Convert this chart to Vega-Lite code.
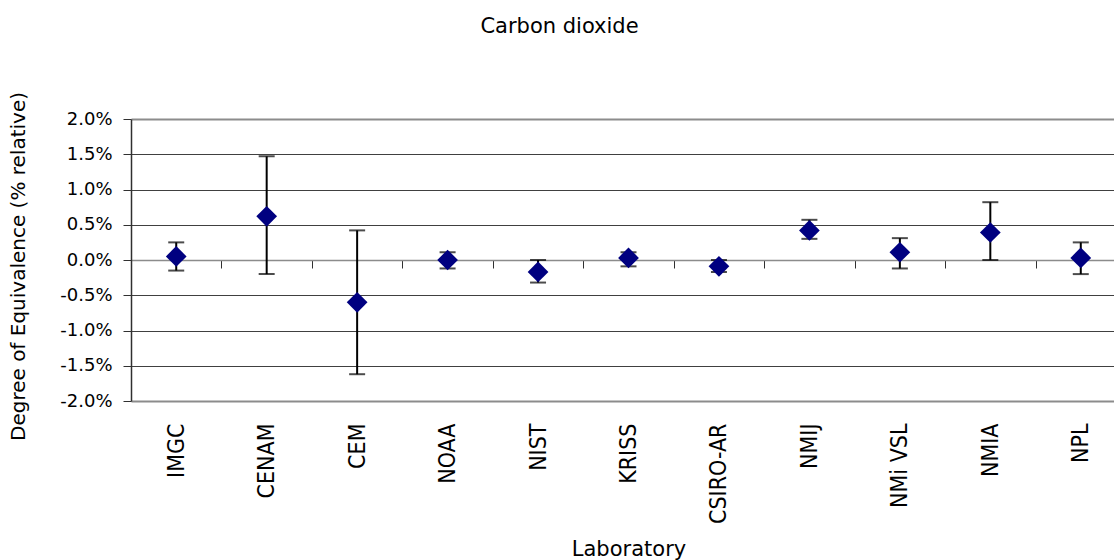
{
  "$schema": "https://vega.github.io/schema/vega-lite/v6.json",
  "width": 983,
  "height": 282,
  "autosize": {"type": "none"},
  "padding": {"left": 131, "top": 119, "right": 0, "bottom": 159},
  "background": "white",
  "title": {
    "text": "Carbon dioxide",
    "font": "DejaVu Sans",
    "fontSize": 21,
    "fontWeight": "normal",
    "color": "#000000",
    "anchor": "middle",
    "frame": "group",
    "dx": -63,
    "offset": 54
  },
  "config": {
    "view": {"stroke": null},
    "axisY": {
      "labelOverlap": false,
      "grid": true,
      "gridColor": {"condition": {"test": "abs(datum.value) > 1.9", "value": "#8c8c8c"}, "value": "#404040"},
      "gridWidth": {"condition": {"test": "abs(datum.value) > 1.9", "value": 2}, "value": 1},
      "domainColor": "#303030",
      "domainWidth": 1.5,
      "tickColor": "#303030",
      "tickSize": 8,
      "labelFont": "DejaVu Sans",
      "labelFontSize": 18,
      "labelColor": "#000000",
      "labelPadding": 11,
      "titleFont": "DejaVu Sans",
      "titleFontSize": 20,
      "titleFontWeight": "normal",
      "titleColor": "#000000",
      "titleX": -113,
      "titleY": 147,
      "titleAngle": -90,
      "titleAlign": "center",
      "titleBaseline": "middle"
    }
  },
  "data": {
    "values": [
      {"lab": "IMGC", "val": 0.05, "lo": -0.15, "hi": 0.25},
      {"lab": "CENAM", "val": 0.62, "lo": -0.20, "hi": 1.47},
      {"lab": "CEM", "val": -0.60, "lo": -1.62, "hi": 0.42},
      {"lab": "NOAA", "val": 0.00, "lo": -0.12, "hi": 0.11},
      {"lab": "NIST", "val": -0.17, "lo": -0.32, "hi": 0.00},
      {"lab": "KRISS", "val": 0.03, "lo": -0.09, "hi": 0.11},
      {"lab": "CSIRO-AR", "val": -0.09, "lo": -0.17, "hi": 0.00},
      {"lab": "NMIJ", "val": 0.42, "lo": 0.30, "hi": 0.57},
      {"lab": "NMi VSL", "val": 0.11, "lo": -0.12, "hi": 0.31},
      {"lab": "NMIA", "val": 0.39, "lo": 0.00, "hi": 0.82},
      {"lab": "NPL", "val": 0.03, "lo": -0.20, "hi": 0.25}
    ]
  },
  "encoding": {
    "x": {
      "field": "lab",
      "type": "nominal",
      "sort": null,
      "scale": {"type": "band", "range": [0, 995], "paddingInner": 0, "paddingOuter": 0},
      "axis": {
        "orient": "bottom",
        "offset": -141,
        "tickBand": "extent",
        "ticks": true,
        "tickSize": 8,
        "tickColor": "#303030",
        "tickWidth": 1,
        "domain": true,
        "domainColor": "#8c8c8c",
        "domainWidth": 1.5,
        "grid": false,
        "labelAngle": 270,
        "labelAlign": "right",
        "labelBaseline": "middle",
        "labelPadding": 155,
        "labelFont": "Liberation Sans Narrow, DejaVu Sans Condensed, sans-serif",
        "labelFontSize": 23,
        "labelColor": "#000000",
        "labelOverlap": false,
        "labelBound": false,
        "title": "Laboratory",
        "titleFont": "DejaVu Sans",
        "titleFontSize": 21,
        "titleFontWeight": "normal",
        "titleColor": "#000000",
        "titleBaseline": "alphabetic",
        "titleAlign": "center",
        "titleY": 295
      }
    }
  },
  "layer": [
    {
      "mark": {"type": "rule", "color": "#000000", "strokeWidth": 2},
      "encoding": {
        "y": {
          "field": "lo",
          "type": "quantitative",
          "scale": {"domain": [-2, 2], "nice": false, "zero": false},
          "axis": {
            "values": [-2, -1.5, -1, -0.5, 0, 0.5, 1, 1.5, 2],
            "labelExpr": "(datum.value < 0 ? '-' : '') + format(abs(datum.value), '.1f') + '%'",
            "title": "Degree of Equivalence (% relative)"
          }
        },
        "y2": {"field": "hi"}
      }
    },
    {
      "mark": {"type": "tick", "color": "#000000", "thickness": 2, "size": 16, "orient": "horizontal"},
      "encoding": {"y": {"field": "lo", "type": "quantitative",
          "axis": {
            "values": [-2, -1.5, -1, -0.5, 0, 0.5, 1, 1.5, 2],
            "labelExpr": "(datum.value < 0 ? '-' : '') + format(abs(datum.value), '.1f') + '%'",
            "title": "Degree of Equivalence (% relative)"
          }}}
    },
    {
      "mark": {"type": "tick", "color": "#000000", "thickness": 2, "size": 16, "orient": "horizontal"},
      "encoding": {"y": {"field": "hi", "type": "quantitative",
          "axis": {
            "values": [-2, -1.5, -1, -0.5, 0, 0.5, 1, 1.5, 2],
            "labelExpr": "(datum.value < 0 ? '-' : '') + format(abs(datum.value), '.1f') + '%'",
            "title": "Degree of Equivalence (% relative)"
          }}}
    },
    {
      "mark": {"type": "point", "shape": "diamond", "filled": true, "size": 430, "color": "#000080", "opacity": 1, "strokeWidth": 0},
      "encoding": {"y": {"field": "val", "type": "quantitative",
          "axis": {
            "values": [-2, -1.5, -1, -0.5, 0, 0.5, 1, 1.5, 2],
            "labelExpr": "(datum.value < 0 ? '-' : '') + format(abs(datum.value), '.1f') + '%'",
            "title": "Degree of Equivalence (% relative)"
          }}}
    }
  ]
}
